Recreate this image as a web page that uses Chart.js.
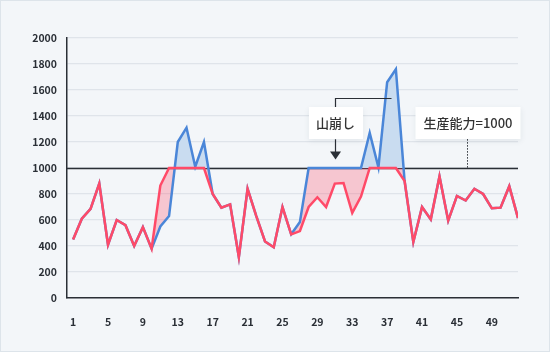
<!DOCTYPE html>
<html>
<head>
<meta charset="utf-8">
<script src="https://cdn.jsdelivr.net/npm/chart.js@4/dist/chart.umd.min.js"></script>
<style>
  html, body { margin: 0; padding: 0; background: #f3f6f9; }
  #wrap { position: relative; width: 550px; height: 352px; background: #f3f6f9; overflow: hidden; }
  #wrap::after { content: ''; position: absolute; inset: 0; border: 1px solid #dde4ea; pointer-events: none; }
  canvas { position: absolute; left: 0; top: 0; }
  .tag {
    position: absolute; background: #fff; color: #333; height: 32px; line-height: 32px;
    font-family: 'Noto Sans CJK JP', 'Noto Sans', sans-serif; font-size: 13px; font-weight: 500;
    text-align: center; transform: translate(-50%, -50%);
    box-shadow: 0 2px 6px rgba(40, 60, 80, 0.08); white-space: nowrap;
  }
</style>
</head>
<body>
<div id="wrap">
  <canvas id="chart" width="550" height="352"></canvas>
  <div class="tag" id="tagLevel" style="width:54px">山崩し</div>
  <div class="tag" id="tagCap" style="width:105px">生産能力=1000</div>
</div>
<script>
const weeks = [1, 2, 3, 4, 5, 6, 7, 8, 9, 10, 11, 12, 13, 14, 15, 16, 17, 18, 19, 20, 21, 22, 23, 24, 25, 26,
               27, 28, 29, 30, 31, 32, 33, 34, 35, 36, 37, 38, 39, 40, 41, 42, 43, 44, 45, 46, 47, 48, 49, 50, 51, 52];
const weekTicks = [1, 5, 9, 13, 17, 21, 25, 29, 33, 37, 41, 45, 49];

// demand (blue)
const demand = [450, 610, 685, 880, 410, 600, 560, 400, 545, 380, 550, 630, 1200, 1310, 1010, 1200, 800, 695, 720, 315,
                840, 630, 435, 390, 700, 490, 585, 1000, 1000, 1000, 1000, 1000, 1000, 1000, 1270, 1005, 1660, 1760,
                900, 430, 700, 605, 935, 595, 785, 750, 840, 800, 690, 695, 860, 615];
// leveled production (red)
const production = [450, 610, 685, 880, 410, 600, 560, 400, 545, 380, 865, 1000, 1000, 1000, 1000, 1000, 800, 695, 720, 315,
                    840, 630, 435, 390, 700, 490, 515, 700, 775, 700, 880, 885, 655, 780, 1000, 1000, 1000, 1000,
                    900, 430, 700, 605, 935, 595, 785, 750, 840, 800, 690, 695, 860, 615];

const capacity = 1000;
const yTicksMax = 2000;
const yStep = 200;

const toPoints = arr => arr.map((v, i) => ({ x: weeks[i], y: v }));

const dark = '#2a2f36';
const tickFont = { family: "'Noto Sans CJK JP', 'Noto Sans', sans-serif", size: 10.5, weight: 'bold' };

const annotate = {
    id: 'annotate',
    beforeDatasetsDraw(chart) {
        const { ctx, chartArea, scales: { y } } = chart;
        const py = Math.round(y.getPixelForValue(capacity)) + 0.5;
        ctx.save();
        ctx.strokeStyle = dark;
        ctx.lineWidth = 1.3;
        ctx.beginPath();
        ctx.moveTo(chartArea.left, py);
        ctx.lineTo(chartArea.right, py);
        ctx.stroke();
        ctx.restore();
    },
    afterDatasetsDraw(chart) {
        const { ctx, scales: { x, y } } = chart;
        const bx = Math.round(x.getPixelForValue(31.0)) + 0.5;
        const bEnd = x.getPixelForValue(37.5);
        const bTop = Math.round(y.getPixelForValue(1540)) + 0.5;
        const boxMid = y.getPixelForValue(1345);
        const boxTop = boxMid - 16, boxBottom = boxMid + 16;
        const tipY = y.getPixelForValue(1065);

        ctx.save();
        ctx.strokeStyle = dark;
        ctx.fillStyle = dark;
        ctx.lineWidth = 1.2;
        ctx.beginPath();
        ctx.moveTo(bEnd, bTop);
        ctx.lineTo(bx, bTop);
        ctx.lineTo(bx, boxTop);
        ctx.moveTo(bx, boxBottom);
        ctx.lineTo(bx, tipY - 7);
        ctx.stroke();
        ctx.beginPath();
        ctx.moveTo(bx - 5.5, tipY - 8);
        ctx.lineTo(bx + 5.5, tipY - 8);
        ctx.lineTo(bx, tipY);
        ctx.closePath();
        ctx.fill();

        // dotted leader to capacity line
        const cx = Math.round(x.getPixelForValue(46.1)) + 0.5;
        ctx.setLineDash([1.5, 1.5]);
        ctx.lineWidth = 1;
        ctx.beginPath();
        ctx.moveTo(cx, boxBottom);
        ctx.lineTo(cx, y.getPixelForValue(capacity));
        ctx.stroke();
        ctx.restore();

        const t1 = document.getElementById('tagLevel');
        t1.style.left = bx + 'px';
        t1.style.top = boxMid + 'px';
        const t2 = document.getElementById('tagCap');
        t2.style.left = (cx + 0.5) + 'px';
        t2.style.top = boxMid + 'px';
    }
};

new Chart(document.getElementById('chart'), {
    type: 'line',
    data: {
        datasets: [
            {
                label: '生産',
                data: toPoints(production),
                borderColor: '#ff4a68',
                borderWidth: 2.5,
                pointRadius: 0,
                fill: false,
                order: 0
            },
            {
                label: '需要',
                data: toPoints(demand),
                borderColor: '#4a86d8',
                borderWidth: 2.5,
                pointRadius: 0,
                fill: { target: { value: capacity }, above: '#c9dcf0', below: 'rgba(0,0,0,0)' },
                order: 1
            },
            {
                label: '前倒し',
                data: toPoints(production),
                borderWidth: 0,
                pointRadius: 0,
                fill: { target: 1, above: 'rgba(255, 74, 104, 0.28)', below: 'rgba(255, 74, 104, 0.28)' },
                order: 2
            }
        ]
    },
    options: {
        responsive: false,
        animation: false,
        devicePixelRatio: 1,
        layout: { padding: { left: 0, right: 32, top: 38, bottom: 0 } },
        scales: {
            x: {
                type: 'linear',
                min: 0.3,
                max: 52,
                afterBuildTicks: (scale) => { scale.ticks = weekTicks.map(v => ({ value: v })); },
                afterFit: (scale) => { scale.height = 54; },
                grid: { display: false },
                border: { color: dark, width: 1.5 },
                ticks: { color: dark, font: tickFont, padding: 10, maxRotation: 0, autoSkip: false,
                         callback: (v) => String(v) }
            },
            y: {
                min: 0,
                max: yTicksMax,
                afterFit: (scale) => { scale.width = 67; },
                grid: { color: '#dfe4ea', lineWidth: 1.2, drawTicks: false },
                border: { color: dark, width: 1.5 },
                ticks: { stepSize: yStep, color: dark, font: tickFont, padding: 10,
                         callback: (v) => String(v) }
            }
        },
        plugins: {
            legend: { display: false },
            tooltip: { enabled: false }
        }
    },
    plugins: [annotate]
});
</script>
</body>
</html>
